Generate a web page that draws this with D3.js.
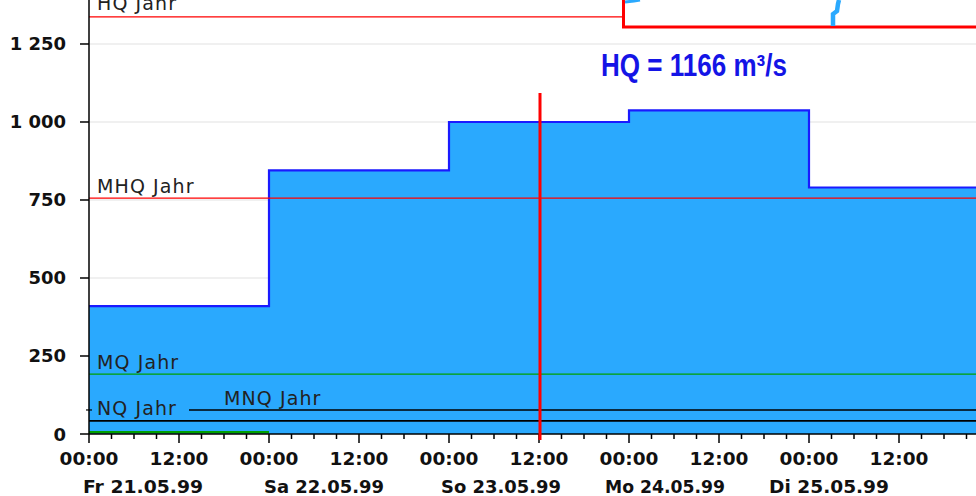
<!DOCTYPE html>
<html><head><meta charset="utf-8">
<script src="https://cdn.jsdelivr.net/npm/d3@7"></script>
<style>
html,body{margin:0;padding:0;background:#fff;}
svg{display:block;}
</style></head>
<body>
<svg id="c" width="976" height="496"></svg>
<script>
// ---- data ----
const stepTimes = ["1999-05-21T00:00","1999-05-22T00:00","1999-05-23T00:00","1999-05-24T00:00","1999-05-25T00:00"];
const stepValues = [410, 845, 1000, 1037, 790];
const domainStart = "1999-05-21T00:00";
const domainEnd = "1999-05-25T22:16";
const yMax = 1391;
const yTicks = [0, 250, 500, 750, 1000, 1250];
const refNames = ["HQ Jahr", "MHQ Jahr", "MQ Jahr", "MNQ Jahr", "NQ Jahr"];
const refValues = [1337, 756, 192, 77, 42];
const refColors = ["#ff0000", "#ff0000", "#00a000", "#000000", "#000000"];
const lowSeriesTimes = ["1999-05-21T00:00", "1999-05-22T00:00"];
const lowSeriesValues = [6, 6];
const markerTime = "1999-05-23T12:00";
const markerTop = 1093;
const hqText = "HQ = 1166 m³/s";
const dayLabels = ["Fr 21.05.99", "Sa 22.05.99", "So 23.05.99", "Mo 24.05.99", "Di 25.05.99"];

// ---- layout ----
const svg = d3.select("#c");
const parse = d3.isoParse;
const x = d3.scaleTime().domain([parse(domainStart), parse(domainEnd)]).range([89, 976]);
const y = d3.scaleLinear().domain([0, yMax]).range([434, 0]);
const W = 976;

// grid
svg.append("g").selectAll("line").data(yTicks.filter(d => d > 0)).join("line")
  .attr("x1", 90).attr("x2", W).attr("y1", d => y(d)).attr("y2", d => y(d))
  .attr("stroke", "#ebebeb").attr("stroke-width", 1.5);

// area step
const pts = stepTimes.map((t, i) => [parse(t), stepValues[i]]);
pts.push([parse(domainEnd), stepValues[stepValues.length - 1]]);
const area = d3.area().curve(d3.curveStepAfter).x(d => x(d[0])).y0(y(0)).y1(d => y(d[1]));
svg.append("path").datum(pts).attr("d", area).attr("fill", "#2aa9fe");
const line = d3.line().curve(d3.curveStepAfter).x(d => x(d[0])).y(d => y(d[1]));
svg.append("path").datum(pts).attr("d", line).attr("fill", "none")
  .attr("stroke", "#1a1aff").attr("stroke-width", 2.2);

// reference lines
const refStart = [89, 89, 89, 189, 89];
refNames.forEach((n, i) => {
  svg.append("line").attr("x1", refStart[i]).attr("x2", W)
    .attr("y1", y(refValues[i])).attr("y2", y(refValues[i]))
    .attr("stroke", refColors[i]).attr("stroke-width", i >= 3 ? 1.6 : 1.2);
});
const labelX = [97, 97, 97, 224, 97];
const labelDy = [-7, -5, -5, -5, -6];
refNames.forEach((n, i) => {
  svg.append("text").attr("x", labelX[i]).attr("y", y(refValues[i]) + labelDy[i])
    .attr("font-family", "DejaVu Sans").attr("font-size", 19).attr("fill", "#222")
    .attr("letter-spacing", 1.1).text(n);
});

// low green series
svg.append("path").datum(lowSeriesTimes.map((t, i) => [parse(t), lowSeriesValues[i]]))
  .attr("d", d3.line().x(d => x(d[0])).y(d => y(d[1])))
  .attr("stroke", "#00a000").attr("stroke-width", 2.5).attr("fill", "none");

// inset box (cropped)
const insetG = svg.append("g");
insetG.append("rect").attr("x", 623.5).attr("y", -10).attr("width", 400).attr("height", 37)
  .attr("fill", "#fff").attr("stroke", "#ff0000").attr("stroke-width", 3);
insetG.append("path").attr("d", "M625,2 L634,1 L640,0")
  .attr("stroke", "#2aa9fe").attr("stroke-width", 3).attr("fill", "none");
insetG.append("path").attr("d", "M833,26 L833,14 L837,11 L838,4 L839,0")
  .attr("stroke", "#2aa9fe").attr("stroke-width", 4.5).attr("fill", "none");

// axes
const axG = svg.append("g");
axG.append("line").attr("x1", 89).attr("x2", 89).attr("y1", 0).attr("y2", 434).attr("stroke", "#000").attr("stroke-width", 1.5);
axG.append("line").attr("x1", 89).attr("x2", W).attr("y1", 434).attr("y2", 434).attr("stroke", "#000").attr("stroke-width", 1.5);
axG.selectAll(".yt").data(yTicks).join("line")
  .attr("x1", 80).attr("x2", 89).attr("y1", d => y(d)).attr("y2", d => y(d))
  .attr("stroke", "#000").attr("stroke-width", 1.5);
axG.append("line").attr("x1", 86).attr("x2", 92).attr("y1", y(refValues[3])).attr("y2", y(refValues[3]))
  .attr("stroke", "#000").attr("stroke-width", 1.2);
const fmt = d => d3.format(",")(d).replace(/,/g, " ");
axG.selectAll(".yl").data(yTicks).join("text")
  .attr("x", 66).attr("y", d => y(d) + 6.5).attr("text-anchor", "end")
  .attr("font-family", "DejaVu Sans").attr("font-weight", "bold").attr("font-size", 18).attr("fill", "#111")
  .text(fmt);

const minor = d3.timeHour.every(3).range(parse(domainStart), parse(domainEnd));
axG.selectAll(".xt").data(minor).join("line")
  .attr("x1", d => x(d)).attr("x2", d => x(d)).attr("y1", 434)
  .attr("y2", d => d.getHours() % 12 === 0 ? 443 : 439)
  .attr("stroke", "#000").attr("stroke-width", 1.5);
const major = d3.timeHour.every(12).range(parse(domainStart), parse(domainEnd));
axG.selectAll(".xl").data(major).join("text")
  .attr("x", d => x(d)).attr("y", 465).attr("text-anchor", "middle")
  .attr("font-family", "DejaVu Sans").attr("font-weight", "bold").attr("font-size", 18.5).attr("fill", "#111")
  .text(d3.timeFormat("%H:%M"));
const dayOffsets = [-6, -5, -8, -24, -40];
axG.selectAll(".dl").data(dayLabels).join("text")
  .attr("x", (d, i) => x(parse(stepTimes[i])) + dayOffsets[i]).attr("y", 493)
  .attr("font-family", "DejaVu Sans").attr("font-weight", "bold").attr("font-size", 18.5).attr("fill", "#111")
  .attr("textLength", 120).attr("lengthAdjust", "spacingAndGlyphs")
  .text(d => d);

// marker
svg.append("line").attr("x1", x(parse(markerTime)) + 1).attr("x2", x(parse(markerTime)) + 1)
  .attr("y1", y(markerTop)).attr("y2", 440).attr("stroke", "#ff0000").attr("stroke-width", 3);
svg.append("text").attr("x", 601).attr("y", 76)
  .attr("font-family", "Liberation Sans").attr("font-weight", "bold")
  .attr("font-size", 31).attr("fill", "#1414e6")
  .attr("textLength", 186).attr("lengthAdjust", "spacingAndGlyphs").text(hqText);
</script>
</body></html>
